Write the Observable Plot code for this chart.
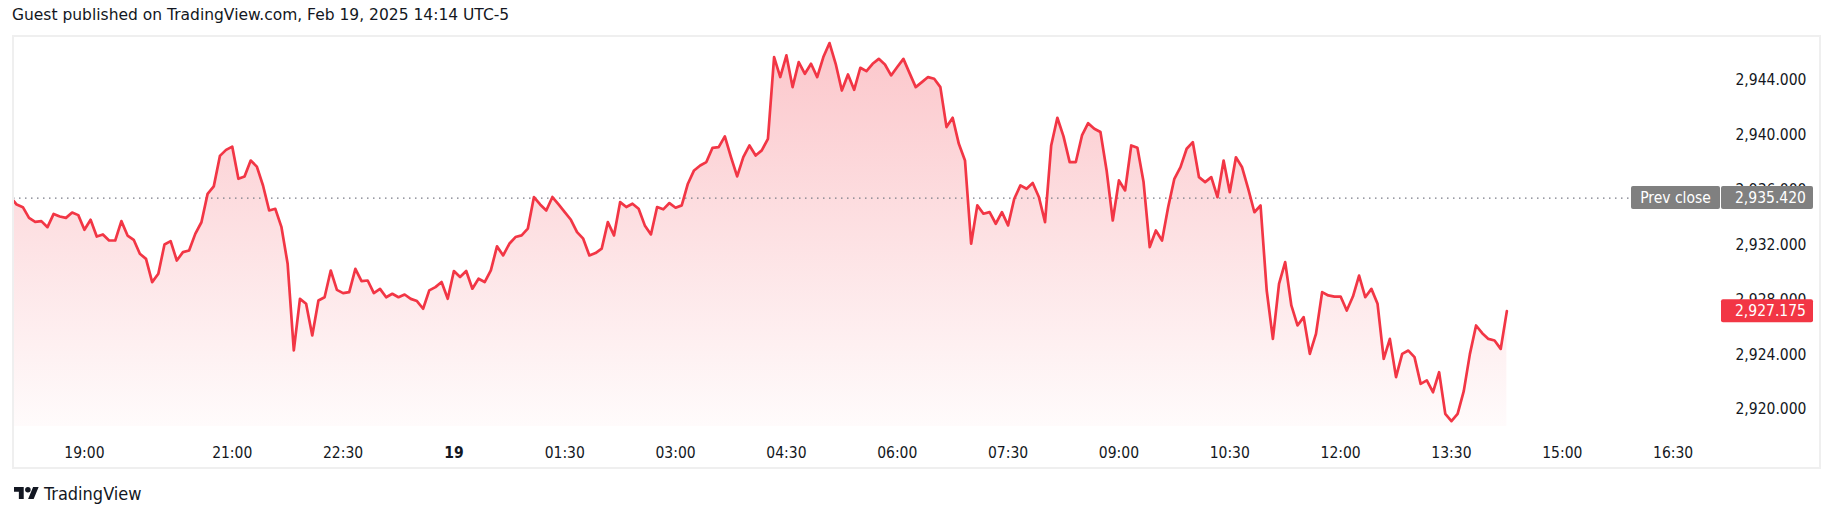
<!DOCTYPE html>
<html><head><meta charset="utf-8">
<script src="https://cdn.jsdelivr.net/npm/d3@7"></script>
<script src="https://cdn.jsdelivr.net/npm/@observablehq/plot@0.6"></script>
<style>
html,body{margin:0;padding:0;background:#fff;}
body{width:1835px;height:516px;overflow:hidden;font-family:"DejaVu Sans Condensed","DejaVu Sans",sans-serif;font-stretch:condensed;color:#131722;}
#title{height:31px;line-height:31px;padding-left:12px;font-size:15.5px;white-space:nowrap;font-family:"DejaVu Sans",sans-serif;font-stretch:normal;}
#chart{position:relative;height:445px;}
#frame{position:absolute;left:12px;top:4px;width:1805px;height:430px;border:2px solid #efefef;pointer-events:none}
#footer{height:34px;display:flex;align-items:center;padding-left:14px;font-size:18px;color:#131722}
#footer svg{margin-right:5px}
</style></head>
<body>
<div id="title">Guest published on TradingView.com, Feb 19, 2025 14:14 UTC-5</div>
<div id="chart"><div id="frame"></div></div>
<div id="footer"><svg width="25" height="12.5" viewBox="0 4 36 18"><path d="M14 22H7V11H0V4h14v18zM28 22h-8l7.5-18h8L28 22z" fill="#131722"/><circle cx="20" cy="8" r="4" fill="#131722"/></svg><span>TradingView</span></div>
<script>
// ---- data (XAUUSD, 5-minute closes, ET) ----
const startTime = "2025-02-18T18:00:00Z";
const stepMinutes = 5;
const prices = [
2935.49,2934.95,2934.76,2933.98,2933.69,2933.74,2933.30,2934.27,2934.08,2933.98,
2934.37,2934.18,2933.11,2933.84,2932.62,2932.77,2932.33,2932.33,2933.74,2932.69,
2932.38,2931.36,2930.99,2929.29,2929.90,2932.04,2932.28,2930.87,2931.48,2931.60,
2932.81,2933.66,2935.73,2936.27,2938.50,2938.94,2939.18,2936.83,2937.00,2938.16,
2937.72,2936.34,2934.52,2934.64,2933.30,2930.63,2924.31,2928.07,2927.71,2925.40,
2927.95,2928.19,2930.14,2928.73,2928.49,2928.56,2930.26,2929.36,2929.41,2928.49,
2928.80,2928.19,2928.44,2928.19,2928.39,2928.07,2927.91,2927.35,2928.69,2928.93,
2929.30,2928.08,2930.10,2929.66,2930.10,2928.81,2929.54,2929.30,2930.15,2931.90,
2931.24,2932.09,2932.58,2932.70,2933.19,2935.50,2934.96,2934.52,2935.50,2934.96,
2934.40,2933.84,2932.94,2932.46,2931.24,2931.41,2931.73,2933.67,2932.70,2935.13,
2934.77,2935.01,2934.64,2933.43,2932.77,2934.77,2934.60,2935.06,2934.72,2934.89,
2936.47,2937.44,2937.80,2938.05,2939.09,2939.14,2939.92,2938.41,2937.00,2938.41,
2939.26,2938.53,2938.90,2939.75,2945.71,2944.25,2945.83,2943.52,2945.34,2944.49,
2945.22,2944.25,2945.71,2946.73,2945.22,2943.27,2944.44,2943.32,2944.93,2944.68,
2945.22,2945.58,2945.17,2944.37,2944.98,2945.58,2944.54,2943.52,2943.88,2944.25,
2944.13,2943.52,2940.60,2941.28,2939.38,2938.17,2932.09,2934.89,2934.28,2934.40,
2933.55,2934.40,2933.43,2935.37,2936.35,2936.10,2936.52,2935.50,2933.67,2939.26,
2941.28,2939.92,2938.05,2938.05,2939.99,2940.89,2940.48,2940.24,2937.44,2933.79,
2936.71,2935.98,2939.26,2939.09,2936.59,2931.85,2933.06,2932.33,2934.77,2936.83,
2937.68,2939.02,2939.50,2936.95,2936.59,2936.95,2935.49,2938.16,2935.85,2938.40,
2937.67,2936.09,2934.39,2934.88,2928.68,2925.15,2929.17,2930.75,2927.59,2926.13,
2926.74,2924.06,2925.52,2928.56,2928.32,2928.24,2928.24,2927.22,2928.24,2929.77,
2928.19,2928.80,2927.71,2923.70,2925.15,2922.36,2924.06,2924.30,2923.82,2921.87,
2922.12,2921.26,2922.72,2919.68,2919.15,2919.68,2921.34,2924.06,2926.13,2925.57,
2925.15,2925.03,2924.42,2927.175
];
const prevClose = 2935.420;
const lastPrice = 2927.175;
const timeTicks = ["2025-02-18T19:00Z","2025-02-18T21:00Z","2025-02-18T22:30Z",
  "2025-02-19T01:30Z","2025-02-19T03:00Z","2025-02-19T04:30Z","2025-02-19T06:00Z",
  "2025-02-19T07:30Z","2025-02-19T09:00Z","2025-02-19T10:30Z","2025-02-19T12:00Z",
  "2025-02-19T13:30Z","2025-02-19T15:00Z","2025-02-19T16:30Z"];
const dayTicks = ["2025-02-19T00:00Z"];
const dayLabels = ["19"];
const priceTicks = [2920, 2924, 2928, 2932, 2936, 2940, 2944];
const xDomain = ["2025-02-18T18:02:24Z", "2025-02-19T17:03:36Z"];
const yDomain = [2918.76, 2947.21];

// ---- build ----
const t0 = new Date(startTime).getTime();
const data = prices.map((p, i) => ({time: new Date(t0 + i * stepMinutes * 60000), price: p}));
const RED = "#F23645", GREY = "#808080";
const FONT = '"DejaVu Sans Condensed","DejaVu Sans",sans-serif';
const ns = "http://www.w3.org/2000/svg";
function el(name, attrs) {
  const e = document.createElementNS(ns, name);
  for (const k in attrs) e.setAttribute(k, attrs[k]);
  return e;
}
function gradientDefs(index, scales, values, dim) {
  const defs = el("defs", {});
  const lg = el("linearGradient", {id: "areaGrad", gradientUnits: "userSpaceOnUse",
    x1: 0, x2: 0, y1: scales.y(d3.max(prices)), y2: dim.height - dim.marginBottom});
  lg.appendChild(el("stop", {offset: "0", "stop-color": RED, "stop-opacity": 0.28}));
  lg.appendChild(el("stop", {offset: "1", "stop-color": RED, "stop-opacity": 0.02}));
  defs.appendChild(lg);
  return defs;
}
function priceLabels(index, scales, values, dim) {
  const g = el("g", {"font-family": FONT, "font-size": 15.5, "font-stretch": "condensed"});
  const right = dim.width - dim.marginRight;
  const box = (x, w, y, fill) => g.appendChild(el("rect", {x, y: y - 11.5, width: w, height: 23, rx: 2, fill}));
  const txt = (x, y, s, anchor) => { const t = el("text", {x, y, dy: "0.36em", fill: "#fff", "text-anchor": anchor}); t.textContent = s; g.appendChild(t); };
  const fmt = d3.format(",.3f");
  const yp = scales.y(prevClose);
  box(right - 83, 89, yp, GREY);
  box(right + 7, 92, yp, GREY);
  txt(right - 38.5, yp, "Prev close", "middle");
  txt(right + 21, yp, fmt(prevClose), "start");
  const yl = scales.y(lastPrice);
  box(right + 7, 92, yl, RED);
  txt(right + 21, yl, fmt(lastPrice), "start");
  return g;
}

const chart = Plot.plot({
  width: 1835,
  height: 445,
  marginLeft: 13,
  marginRight: 121,
  marginTop: 5,
  marginBottom: 50,
  style: {fontFamily: FONT, fontSize: "15.5px", color: "#131722", background: "transparent", fontStretch: "condensed"},
  x: {type: "utc", domain: xDomain.map(d => new Date(d))},
  y: {domain: yDomain},
  marks: [
    gradientDefs,
    Plot.areaY(data, {x: "time", y1: yDomain[0], y2: "price", fill: "url(#areaGrad)", clip: true}),
    Plot.ruleY([prevClose], {stroke: "#787b86", strokeWidth: 1.2, strokeDasharray: "1.5 4.5"}),
    Plot.lineY(data, {x: "time", y: "price", stroke: RED, strokeWidth: 2.7, clip: true}),
    Plot.axisY({ticks: priceTicks, anchor: "right", tickSize: 0, tickPadding: 21, tickFormat: d3.format(",.3f"), label: null, fontSize: 15.5}),
    Plot.axisX({ticks: timeTicks.map(d => new Date(d)), tickSize: 0, tickPadding: 20, tickFormat: d3.utcFormat("%H:%M"), label: null, fontSize: 15.5}),
    Plot.axisX({ticks: dayTicks.map(d => new Date(d)), tickSize: 0, tickPadding: 20, tickFormat: (d, i) => dayLabels[i], label: null, fontSize: 15.5, fontWeight: "bold"}),
    priceLabels
  ]
});
document.getElementById("chart").appendChild(chart);
</script>
</body></html>
